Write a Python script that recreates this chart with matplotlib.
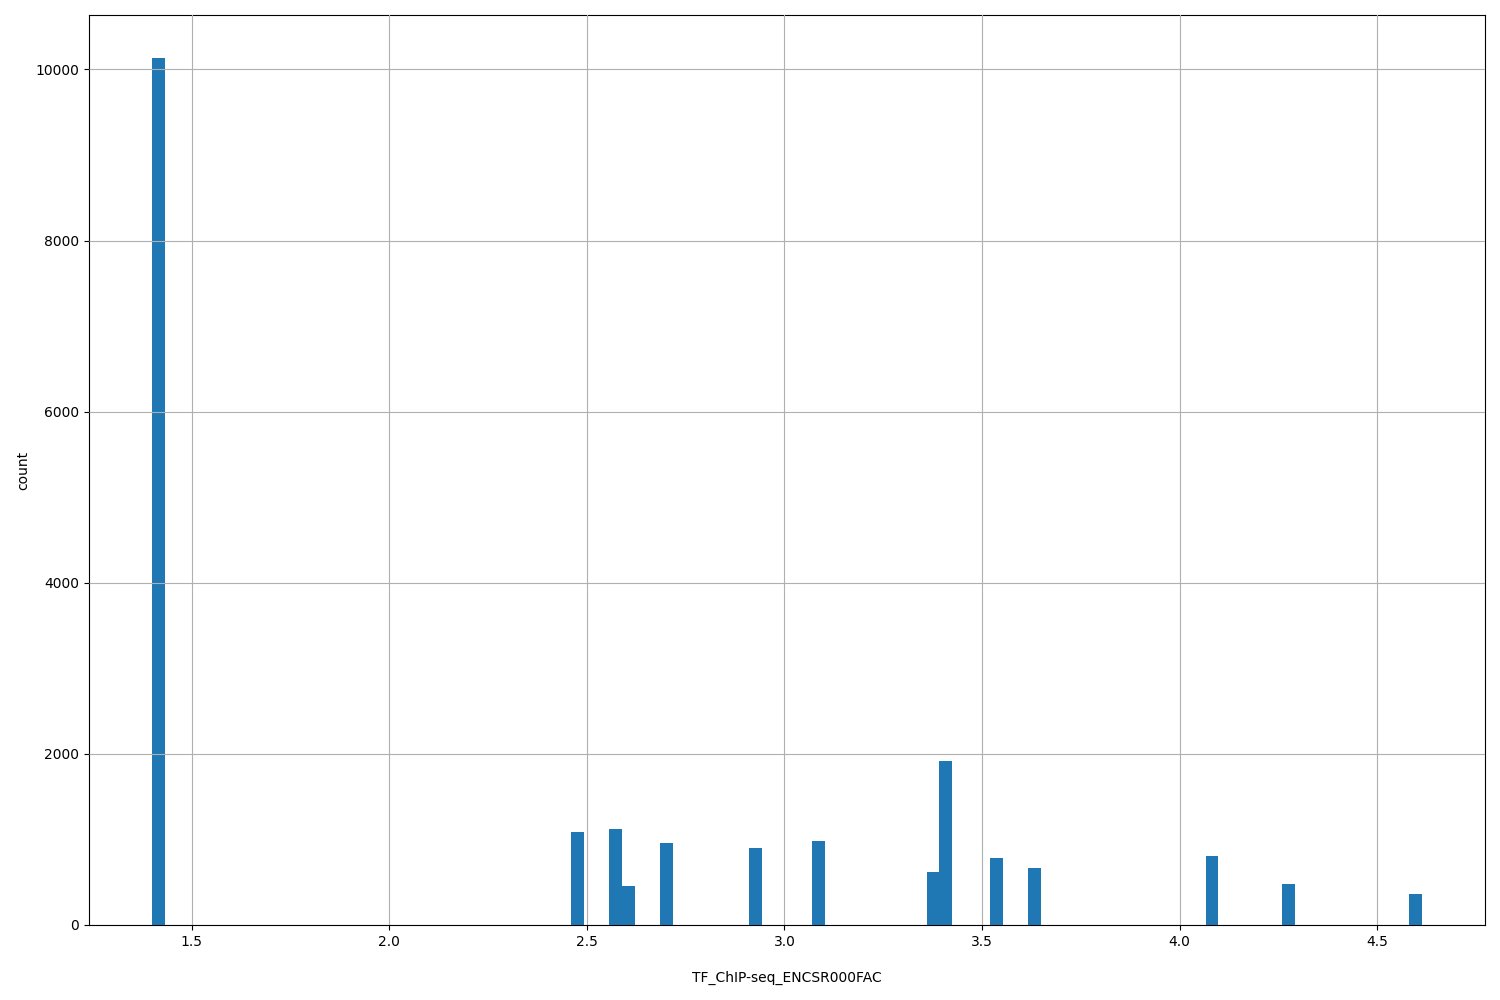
import matplotlib
matplotlib.use("Agg")
import matplotlib.pyplot as plt

# observed values (bin centres) and their counts
values = [1.417, 2.477, 2.573, 2.605, 2.701, 2.926, 3.087, 3.376, 3.408,
          3.537, 3.633, 4.083, 4.276, 4.597]
counts = [10130, 1086, 1121, 456, 958, 900, 981, 619, 1916,
          783, 666, 806, 479, 362]
value_range = (1.4006, 4.612)
n_bins = 100

fig = plt.figure(figsize=(15, 10), dpi=100)
ax = fig.add_axes([0.0593, 0.075, 0.9307, 0.91])
ax.hist(values, bins=n_bins, range=value_range, weights=counts, color="#1f77b4")
ax.grid(True)
ax.set_axisbelow(False)
ax.set_xlabel("TF_ChIP-seq_ENCSR000FAC", labelpad=16)
ax.set_ylabel("count", labelpad=4)
fig.savefig("out.png", dpi=100)
